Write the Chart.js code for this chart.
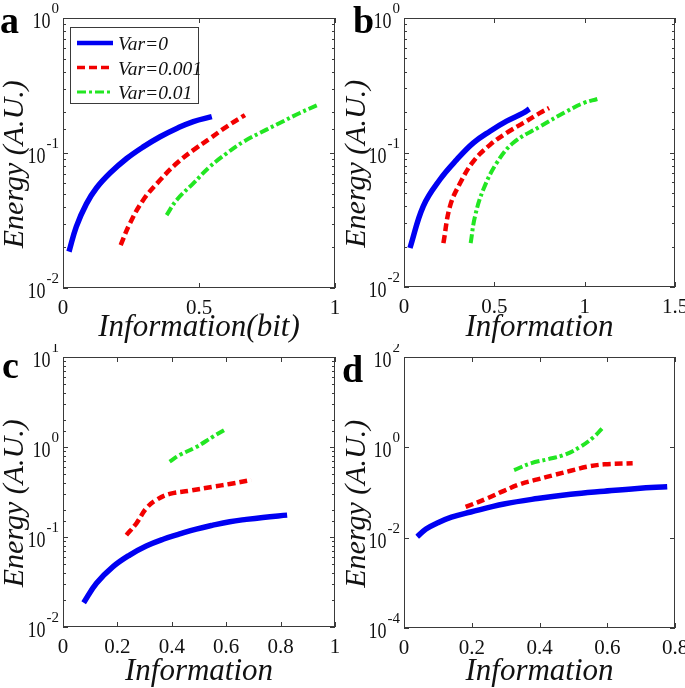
<!DOCTYPE html>
<html>
<head>
<meta charset="utf-8">
<script src="https://cdn.jsdelivr.net/npm/chart.js@4.4.0/dist/chart.umd.min.js"></script>
<style>
  html, body { margin: 0; padding: 0; background: #fff; }
  #page { position: relative; width: 685px; height: 688px; overflow: hidden; }
  canvas { position: absolute; }
</style>
</head>
<body>
<div id="page">
  <canvas id="chart-a" width="342" height="344" style="left:0;top:0"></canvas>
  <canvas id="chart-b" width="343" height="344" style="left:342px;top:0"></canvas>
  <canvas id="chart-c" width="342" height="344" style="left:0;top:344px"></canvas>
  <canvas id="chart-d" width="343" height="344" style="left:342px;top:344px"></canvas>
</div>
<script>
const seriesLabels = ['Var=0', 'Var=0.001', 'Var=0.01'];

// panel a
const aBlueX = [0.022, 0.049, 0.086, 0.123, 0.173, 0.234, 0.295, 0.357, 0.418, 0.479, 0.547];
const aBlueY = [0.0186, 0.0285, 0.042, 0.055, 0.071, 0.091, 0.111, 0.132, 0.152, 0.171, 0.186];
const aRedX = [0.212, 0.246, 0.295, 0.357, 0.418, 0.479, 0.540, 0.602, 0.669];
const aRedY = [0.0208, 0.0301, 0.0449, 0.063, 0.0839, 0.105, 0.128, 0.157, 0.191];
const aGreenX = [0.381, 0.418, 0.479, 0.540, 0.602, 0.663, 0.748, 0.810, 0.871, 0.939];
const aGreenY = [0.0347, 0.0449, 0.0596, 0.0792, 0.0995, 0.121, 0.149, 0.172, 0.198, 0.228];

// panel b
const bBlueX = [0.033, 0.107, 0.199, 0.292, 0.384, 0.476, 0.568, 0.661, 0.694];
const bBlueY = [0.0195, 0.040, 0.063, 0.0885, 0.118, 0.144, 0.171, 0.197, 0.211];
const bRedX = [0.218, 0.255, 0.310, 0.384, 0.476, 0.568, 0.661, 0.753, 0.803];
const bRedY = [0.0212, 0.040, 0.059, 0.086, 0.114, 0.140, 0.166, 0.197, 0.214];
const bGreenX = [0.369, 0.393, 0.439, 0.513, 0.605, 0.753, 0.900, 0.993, 1.070];
const bGreenY = [0.0212, 0.0335, 0.053, 0.0835, 0.118, 0.156, 0.202, 0.233, 0.250];

// panel c
const cBlueX = [0.076, 0.123, 0.184, 0.245, 0.306, 0.368, 0.429, 0.490, 0.551, 0.613, 0.674, 0.735, 0.824];
const cBlueY = [0.0186, 0.0306, 0.0468, 0.063, 0.0794, 0.0944, 0.108, 0.1225, 0.1355, 0.148, 0.157, 0.165, 0.175];
const cRedX = [0.233, 0.270, 0.306, 0.343, 0.392, 0.466, 0.551, 0.613, 0.692];
const cRedY = [0.105, 0.142, 0.208, 0.258, 0.301, 0.327, 0.362, 0.388, 0.430];
const cGreenX = [0.392, 0.429, 0.490, 0.551, 0.594];
const cGreenY = [0.687, 0.815, 1.0, 1.30, 1.55];

// panel d
const dBlueX = [0.039, 0.065, 0.098, 0.140, 0.197, 0.295, 0.394, 0.492, 0.591, 0.689, 0.777];
const dBlueY = [0.0105, 0.0155, 0.021, 0.0285, 0.037, 0.0555, 0.0735, 0.0915, 0.107, 0.123, 0.134];
const dRedX = [0.182, 0.246, 0.295, 0.344, 0.394, 0.443, 0.492, 0.541, 0.591, 0.675];
const dRedY = [0.048, 0.0743, 0.109, 0.154, 0.195, 0.244, 0.303, 0.372, 0.420, 0.442];
const dGreenX = [0.325, 0.374, 0.423, 0.472, 0.521, 0.561, 0.585];
const dGreenY = [0.314, 0.442, 0.542, 0.676, 1.03, 1.72, 2.63];

// axis ticks
const xTicksA = [0, 0.5, 1];
const xTicksB = [0, 0.5, 1, 1.5];
const xTicksC = [0, 0.2, 0.4, 0.6, 0.8, 1];
const xTicksD = [0, 0.2, 0.4, 0.6, 0.8];
const yTicksAB = [0.01, 0.1, 1];
const yTicksC = [0.01, 0.1, 1, 10];
const yTicksD = [0.0001, 0.01, 1, 100];

const SERIF = '"Liberation Serif", "DejaVu Serif", serif';
const colors = ['#0000f2', '#f20000', '#22e622'];
const dashes = [[], [8, 4], [9, 3, 3, 3]];
const widths = [5.5, 4.5, 4];

const toPoints = (xs, ys) => xs.map((x, i) => ({ x: x, y: ys[i] }));

// box, inward ticks, y labels with exponents, panel letter and legend
const frame = {
  id: 'frame',
  afterDraw(chart, args, opts) {
    const ctx = chart.ctx;
    const a = chart.chartArea;
    const xs = chart.scales.x, ys = chart.scales.y;
    ctx.save();
    ctx.strokeStyle = '#3a3a3a';
    ctx.lineWidth = 1;
    ctx.strokeRect(a.left + 0.5, a.top + 0.5, a.width - 1, a.height - 1);

    ctx.beginPath();
    xs.ticks.forEach(t => {
      const px = Math.round(xs.getPixelForValue(t.value)) + 0.5;
      ctx.moveTo(px, a.bottom); ctx.lineTo(px, a.bottom - 5);
      ctx.moveTo(px, a.top); ctx.lineTo(px, a.top + 5);
    });
    const yVals = opts.minor ? ys.ticks.map(t => t.value) : opts.yLabels;
    yVals.forEach(v => {
      const lg = Math.log10(v);
      const len = Math.abs(lg - Math.round(lg)) < 1e-6 ? 5 : 3;
      const py = Math.round(ys.getPixelForValue(v)) + 0.5;
      ctx.moveTo(a.left, py); ctx.lineTo(a.left + len, py);
      ctx.moveTo(a.right, py); ctx.lineTo(a.right - len, py);
    });
    ctx.stroke();

    // y tick labels: 10 with superscript exponent
    ctx.fillStyle = '#111';
    ctx.textBaseline = 'alphabetic';
    opts.yLabels.forEach(v => {
      const py = ys.getPixelForValue(v);
      const ex = String(Math.round(Math.log10(v)));
      const right = a.left - 4;
      ctx.font = '15px ' + SERIF;
      const supW = ctx.measureText(ex).width;
      ctx.textAlign = 'right';
      ctx.fillText(ex, right, py - 5);
      ctx.save();
      ctx.translate(right - supW - 1, py + 10);
      ctx.scale(0.75, 1);
      ctx.font = '24px ' + SERIF;
      ctx.fillText('10', 0, 0);
      ctx.restore();
    });

    // panel letter
    ctx.textAlign = 'left';
    ctx.font = 'bold 38px ' + SERIF;
    ctx.fillStyle = '#000';
    ctx.fillText(opts.letter, opts.letterX, opts.letterY);

    if (opts.legend) {
      const L = opts.legend;
      ctx.fillStyle = '#fff';
      ctx.fillRect(L.x, L.y, L.w, L.h);
      ctx.strokeStyle = '#3a3a3a';
      ctx.lineWidth = 1;
      ctx.strokeRect(L.x + 0.5, L.y + 0.5, L.w, L.h);
      chart.data.datasets.forEach((ds, i) => {
        const ry = L.y + 16 + i * 24.5;
        ctx.beginPath();
        ctx.strokeStyle = ds.borderColor;
        ctx.lineWidth = ds.borderWidth - 1;
        ctx.setLineDash(ds.borderDash);
        ctx.moveTo(L.x + 7, ry);
        ctx.lineTo(L.x + 43, ry);
        ctx.stroke();
        ctx.setLineDash([]);
        ctx.fillStyle = '#111';
        ctx.font = 'italic 19.5px ' + SERIF;
        ctx.fillText(ds.label, L.x + 48, ry + 7);
      });
    }
    ctx.restore();
  }
};

function makeChart(id, p) {
  const ys = [p.blue, p.red, p.green];
  return new Chart(document.getElementById(id), {
    type: 'line',
    data: {
      datasets: ys.map((pts, i) => ({
        label: seriesLabels[i],
        data: pts,
        borderColor: colors[i],
        borderWidth: widths[i],
        borderDash: dashes[i],
        pointRadius: 0,
        fill: false,
        tension: 0.4
      }))
    },
    options: {
      responsive: false,
      animation: false,
      events: [],
      layout: { padding: { left: 0, top: p.top, right: p.right, bottom: 0 } },
      plugins: {
        legend: { display: false },
        tooltip: { enabled: false },
        frame: {
          minor: p.minor,
          yLabels: p.yTicks,
          letter: p.letter,
          letterX: p.letterX,
          letterY: p.letterY,
          legend: p.legend
        }
      },
      scales: {
        x: {
          type: 'linear',
          min: p.xTicks[0],
          max: p.xTicks[p.xTicks.length - 1],
          grid: { display: false, drawTicks: false },
          border: { display: false },
          afterBuildTicks: s => { s.ticks = p.xTicks.map(v => ({ value: v })); },
          afterFit: s => { s.height = p.xh; s.paddingLeft = 0; s.paddingRight = 0; },
          ticks: {
            padding: 8,
            maxRotation: 0,
            color: '#111',
            font: { family: SERIF, size: 21 },
            callback: v => String(v)
          },
          title: {
            display: true,
            text: p.xTitle,
            color: '#111',
            padding: { top: 0, bottom: 1 },
            font: { family: SERIF, size: 31, style: 'italic', lineHeight: 1 }
          }
        },
        y: {
          type: 'logarithmic',
          min: p.yTicks[0],
          max: p.yTicks[p.yTicks.length - 1],
          grid: { display: false, drawTicks: false },
          border: { display: false },
          ticks: { display: false },
          afterFit: s => { s.width = p.yw; s.paddingTop = 0; s.paddingBottom = 0; },
          title: {
            display: true,
            text: 'Energy (A.U.)   ',
            color: '#111',
            padding: 0,
            font: { family: SERIF, size: 30, style: 'italic', lineHeight: 1 }
          }
        }
      }
    },
    plugins: [frame]
  });
}

makeChart('chart-a', {
  blue: toPoints(aBlueX, aBlueY), red: toPoints(aRedX, aRedY), green: toPoints(aGreenX, aGreenY),
  xTicks: xTicksA, yTicks: yTicksAB, minor: true, xTitle: 'Information(bit)',
  top: 18, right: 7, yw: 63, xh: 56,
  letter: 'a', letterX: 0, letterY: 33,
  legend: { x: 70, y: 27, w: 128, h: 76 }
});
makeChart('chart-b', {
  blue: toPoints(bBlueX, bBlueY), red: toPoints(bRedX, bRedY), green: toPoints(bGreenX, bGreenY),
  xTicks: xTicksB, yTicks: yTicksAB, minor: true, xTitle: 'Information',
  top: 18, right: 10, yw: 62, xh: 57,
  letter: 'b', letterX: 11, letterY: 33
});
makeChart('chart-c', {
  blue: toPoints(cBlueX, cBlueY), red: toPoints(cRedX, cRedY), green: toPoints(cGreenX, cGreenY),
  xTicks: xTicksC, yTicks: yTicksC, minor: true, xTitle: 'Information',
  top: 13, right: 7, yw: 63, xh: 61,
  letter: 'c', letterX: 2, letterY: 34
});
makeChart('chart-d', {
  blue: toPoints(dBlueX, dBlueY), red: toPoints(dRedX, dRedY), green: toPoints(dGreenX, dGreenY),
  xTicks: xTicksD, yTicks: yTicksD, minor: false, xTitle: 'Information',
  top: 13, right: 10, yw: 62, xh: 60,
  letter: 'd', letterX: 0, letterY: 38
});
</script>
</body>
</html>
